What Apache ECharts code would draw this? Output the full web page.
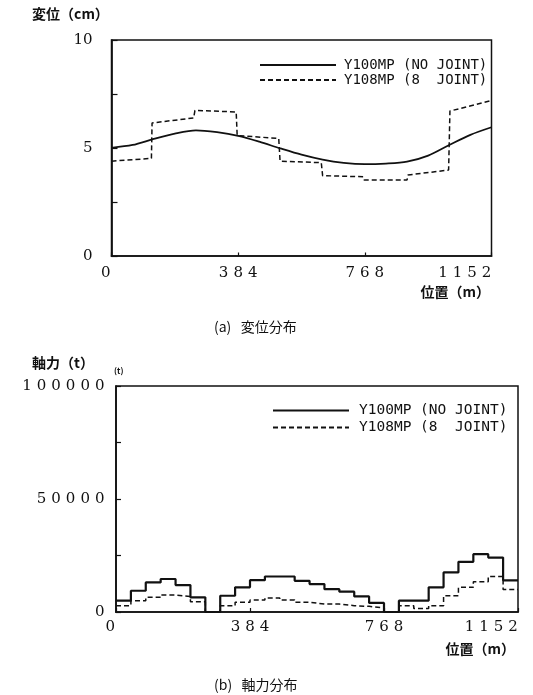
<!DOCTYPE html>
<html>
<head>
<meta charset="utf-8">
<script src="https://cdn.jsdelivr.net/npm/echarts@6/dist/echarts.min.js"></script>
<style>
html, body { margin: 0; padding: 0; background: #fff; }
#main { width: 533px; height: 695px; }
</style>
</head>
<body>
<div id="main"></div>
<script>
// names
const nameNoJoint = 'Y100MP (NO JOINT)'
const nameJoint8 = 'Y108MP (8  JOINT)'
const xTicks = [0, 384, 768, 1152]

// (a) displacement (cm) along position (m)
const dispPos = [0, 64, 128, 192, 256, 320, 384, 448, 512, 576, 640, 704, 768, 832, 896, 960, 1024, 1088, 1152]
const dispNoJoint = [5.01, 5.14, 5.42, 5.67, 5.82, 5.73, 5.56, 5.29, 4.98, 4.69, 4.46, 4.31, 4.25, 4.28, 4.37, 4.65, 5.14, 5.61, 5.96]
const dispJointPos = [0, 121, 123, 249, 253, 378, 381, 507, 511, 636, 640, 763, 766, 896, 899, 1022, 1026, 1152]
const dispJoint8 = [4.39, 4.52, 6.16, 6.39, 6.74, 6.67, 5.58, 5.44, 4.39, 4.32, 3.72, 3.67, 3.52, 3.52, 3.75, 3.98, 6.71, 7.20]

// (b) axial force (t), step segments between edges
const forceEdges = [0, 42.7, 85.3, 128, 170.7, 213.3, 256, 298.7, 341.3, 384, 426.7, 469.3, 512, 554.7,
  597.3, 640, 682.7, 725.3, 768, 810.7, 853.3, 896, 938.7, 981.3, 1024, 1066.7, 1109.3, 1152]
const forceNoJoint = [5000, 9400, 13100, 14600, 11900, 6500, 0, 7200, 10900, 14100, 15700, 15700, 13800, 12350,
  10100, 9000, 6900, 4000, 0, 5000, 5000, 10900, 17500, 22200, 25600, 24100, 14000]
const forceJoint8 = [2800, 5000, 6500, 7500, 6900, 4500, 0, 2800, 4300, 5300, 6200, 5300, 4300, 3500,
  3500, 2800, 2500, 1800, 0, 2800, 1600, 2800, 7200, 10900, 13400, 15700, 10000]

const ink = '#111'
const digitFont = 'DejaVu Serif'
const jpFont = '"Noto Sans CJK JP"'
const monoFont = 'DejaVu Sans Mono'

// letter-spaced numbers through rich tokens
const richDigits = {
  d: { fontFamily: digitFont, fontSize: 15, color: ink, padding: [0, 2.5, 0, 2.5] },
  lo: { fontFamily: digitFont, fontSize: 15, color: ink, padding: [0, 14, 0, 2.5] },
  hi: { fontFamily: digitFont, fontSize: 15, color: ink, padding: [0, 56, 0, 2.5] }
}
const spaced = (s, last) => String(s).split('').map((c, i, a) => `{${i === a.length - 1 && last ? last : 'd'}|${c}}`).join('')

const xLabel = v => {
  if (xTicks.indexOf(v) < 0) return ''
  if (v === 0) return spaced(v, 'lo')
  if (v === 1152) return spaced(v, 'hi')
  return spaced(v)
}

const axisLine = { show: true, lineStyle: { color: ink, width: 1.7 } }

const chart = echarts.init(document.getElementById('main'))
chart.setOption({
  animation: false,
  backgroundColor: '#fff',
  grid: [
    { left: 111.5, top: 40, width: 380, height: 216, show: true, borderColor: ink, borderWidth: 1.5 },
    { left: 116, top: 386, width: 402, height: 226, show: true, borderColor: ink, borderWidth: 1.5 }
  ],
  xAxis: [
    {
      gridIndex: 0, type: 'value', min: 0, max: 1152, interval: 384, offset: 3.5,
      axisLine, axisTick: { show: true, inside: true, length: 3.5, lineStyle: { color: ink, width: 1.2 } },
      axisLabel: { margin: 6, formatter: xLabel, rich: richDigits },
      splitLine: { show: false }
    },
    {
      gridIndex: 1, type: 'value', min: 0, max: 1152, interval: 384, offset: 4,
      axisLine, axisTick: { show: true, inside: true, length: 4, lineStyle: { color: ink, width: 1.2 } },
      axisLabel: { margin: 4, formatter: xLabel, rich: richDigits },
      splitLine: { show: false }
    }
  ],
  yAxis: [
    {
      gridIndex: 0, type: 'value', min: 0, max: 10, interval: 2.5, offset: 6,
      axisLine, axisTick: { show: true, inside: true, length: 6, lineStyle: { color: ink, width: 1.2 } },
      axisLabel: {
        margin: 13, fontFamily: digitFont, fontSize: 15, color: ink,
        formatter: v => (v % 5 === 0 ? String(v) : '')
      },
      splitLine: { show: false }
    },
    {
      gridIndex: 1, type: 'value', min: 0, max: 100000, interval: 25000, offset: 5,
      axisLine, axisTick: { show: true, inside: true, length: 5, lineStyle: { color: ink, width: 1.2 } },
      axisLabel: {
        margin: 4, rich: richDigits,
        formatter: v => (v % 50000 === 0 ? spaced(v) : '')
      },
      splitLine: { show: false }
    }
  ],
  legend: [
    {
      left: 254, top: 53, orient: 'vertical', itemWidth: 76, itemHeight: 14, itemGap: 1,
      data: [nameNoJoint, nameJoint8],
      itemStyle: { opacity: 0 },
      textStyle: { fontFamily: monoFont, fontSize: 14, color: ink, padding: [0, 0, 0, 3] }
    },
    {
      left: 267, top: 398, orient: 'vertical', itemWidth: 76, itemHeight: 14, itemGap: 2,
      data: [nameNoJoint, nameJoint8],
      itemStyle: { opacity: 0 },
      textStyle: { fontFamily: monoFont, fontSize: 14.5, color: ink, padding: [0, 0, 0, 5] }
    }
  ],
  series: [
    {
      name: nameNoJoint, type: 'line', xAxisIndex: 0, yAxisIndex: 0, symbol: 'none', smooth: 0.3,
      lineStyle: { color: ink, width: 1.8 }, itemStyle: { color: ink },
      data: dispNoJoint.map((v, i) => [dispPos[i], v])
    },
    {
      name: nameJoint8, type: 'line', xAxisIndex: 0, yAxisIndex: 0, symbol: 'none',
      lineStyle: { color: ink, width: 1.5, type: [5, 3] }, itemStyle: { color: ink },
      data: dispJoint8.map((v, i) => [dispJointPos[i], v])
    },
    {
      name: nameNoJoint, type: 'line', xAxisIndex: 1, yAxisIndex: 1, symbol: 'none', step: 'end',
      lineStyle: { color: ink, width: 2.2 }, itemStyle: { color: ink },
      data: forceEdges.map((x, i) => [x, forceNoJoint[Math.min(i, forceNoJoint.length - 1)]])
    },
    {
      name: nameJoint8, type: 'line', xAxisIndex: 1, yAxisIndex: 1, symbol: 'none', step: 'end',
      lineStyle: { color: ink, width: 1.5, type: [5, 3] }, itemStyle: { color: ink },
      data: forceEdges.map((x, i) => [x, forceJoint8[Math.min(i, forceJoint8.length - 1)]])
    }
  ],
  graphic: [
    { type: 'text', left: 32, top: 7, style: { text: '変位（cm）', font: `bold 14px ${jpFont}`, fill: ink } },
    { type: 'text', right: 43, top: 285, style: { text: '位置（m）', font: `bold 14px ${jpFont}`, fill: ink } },
    { type: 'text', left: 214, top: 320, style: { text: '(a)   変位分布', font: `14px ${jpFont}`, fill: ink } },
    { type: 'text', left: 32, top: 356, style: { text: '軸力（t）', font: `bold 14px ${jpFont}`, fill: ink } },
    { type: 'text', left: 114, top: 367, style: { text: '(t)', font: `bold 8px ${jpFont}`, fill: ink } },
    { type: 'text', right: 18, top: 642, style: { text: '位置（m）', font: `bold 14px ${jpFont}`, fill: ink } },
    { type: 'text', left: 214, top: 678, style: { text: '(b)   軸力分布', font: `14px ${jpFont}`, fill: ink } }
  ]
})
</script>
</body>
</html>
